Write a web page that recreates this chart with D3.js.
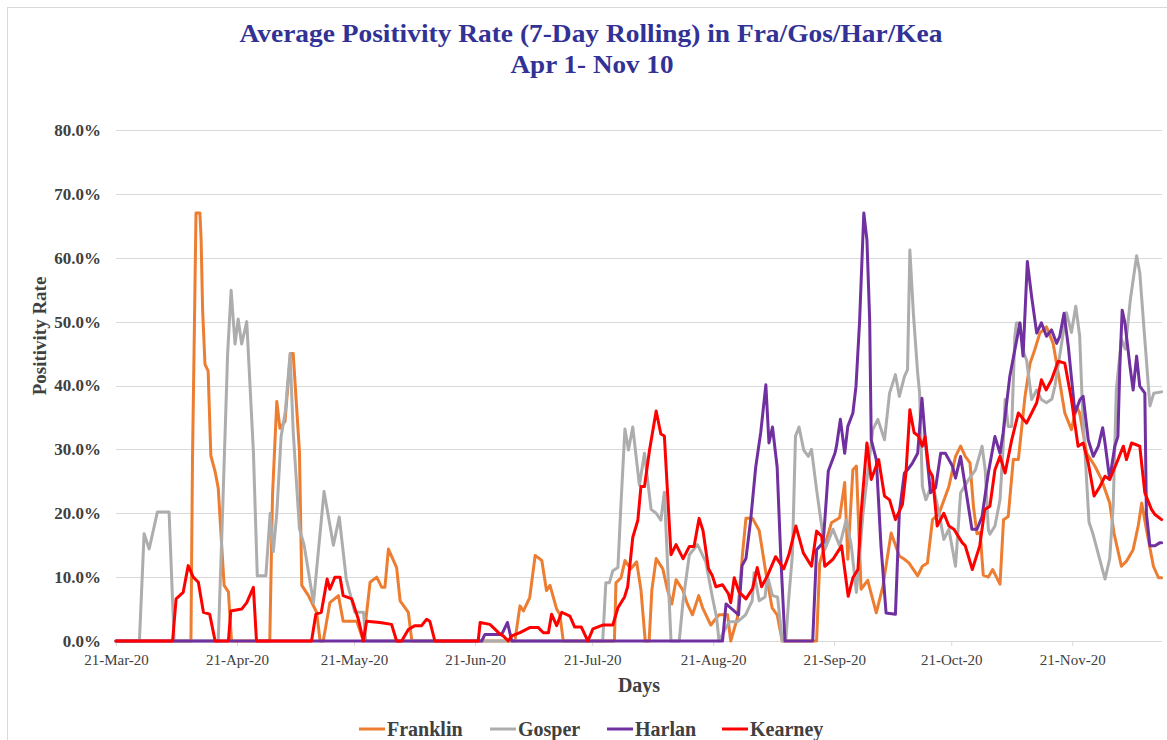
<!DOCTYPE html>
<html>
<head>
<meta charset="utf-8">
<script src="https://cdn.jsdelivr.net/npm/d3@7"></script>
<style>
  html, body { margin: 0; padding: 0; background: #fff; }
  svg { display: block; }
  text { font-family: "Liberation Serif", "DejaVu Serif", serif; }
</style>
</head>
<body>
<svg id="chart" width="1167" height="740"></svg>
<script>
// ---- DATA (day offset from 21-Mar-2020, positivity %) ----
const seriesNames = ["Franklin", "Gosper", "Harlan", "Kearney"];
const seriesColors = ["#ED7D31", "#ADADAD", "#7030A0", "#FF0000"];
const yTicks = [0, 10, 20, 30, 40, 50, 60, 70, 80];
const xTickLabels = ["21-Mar-20", "21-Apr-20", "21-May-20", "21-Jun-20", "21-Jul-20", "21-Aug-20", "21-Sep-20", "21-Oct-20", "21-Nov-20"];
const xTickDays = [0, 31, 61, 92, 122, 153, 184, 214, 245];

const franklin = [[0,0],[19.2,0],[19.6,28.6],[20.0,45.4],[20.5,67],[21.5,67],[21.8,63],[22.2,51.7],[22.8,43.3],[23.6,42.3],[24.3,29],[25.4,26.5],[26.2,23.9],[27.7,8.7],[28.8,7.7],[29.6,0],
  [39.4,0],[40.1,22.8],[41.2,37.5],[42.0,33.3],[43.3,34.4],[44.7,45],[45.4,45],[47.0,29.7],[47.6,8.7],[49.3,7.1],[51.4,4.5],[52.3,0],[53.1,0],[54.8,6],[57.0,7.1],[58.2,3.1],[61.7,3.1],[63.4,0],[65.1,9.2],[66.8,10],[68.1,8.4],[68.9,8.4],[69.8,14.4],[71.9,11.5],[72.8,6.3],[74.9,4.5],[75.8,0],
  [102.2,0],[103.5,5.5],[104.4,4.7],[106,6.8],[107.4,13.4],[109.1,12.6],[110.3,7.9],[111.2,8.7],[112.9,5],[113.7,4.2],[114.6,0],
  [127.7,0],[128.1,9.1],[129.4,9.9],[130.4,12.6],[131.9,11.3],[133.4,12.4],[134.5,8],[135.6,0],[136.6,0],[137.3,8],[138.4,12.9],[140.1,11.3],[141.3,8],[142.4,5.8],[143.5,9.6],[145.2,8],[146.4,5.8],[147.7,4.1],[149.3,7.1],[150.3,5.2],[152.4,2.5],[154.5,4.1],[156.7,4.1],[157.5,0],[159.2,3.6],[160.5,13.5],[161.4,19.2],[163.1,19.2],[164.8,17.3],[166.5,10.7],[168.1,5.2],[169.4,4.1],[170.7,0],
  [179.5,0],[180.3,12.2],[183.3,18.5],[185.4,19.3],[186.7,24.8],[187.5,12.8],[188.8,26.8],[189.7,27.4],[190.9,8.1],[192.6,9.5],[194.8,4.4],[196.5,8.6],[198.6,16.9],[200.7,13.3],[202,12.8],[203.2,12.2],[205.4,10.2],[206.6,11.7],[207.9,12.2],[209.2,19],[210.9,20],[213.4,24.2],[215.1,28.9],[216.4,30.5],[217.6,28.9],[218.8,27.9],[219.7,21],[220.6,16.8],[221.4,17],[222.2,10.3],[223.5,10],[224.6,11.2],[226.5,8.9],[227.4,19],[228.6,19.5],[229.9,28.4],[231.2,28.4],[232.9,38.3],[234.2,43.5],[235.4,45.6],[236.7,48.2],[238.4,49.2],[240.1,46.6],[241.7,40.9],[243.1,35.7],[244.8,33.1],[246.1,36.7],[246.9,35.7],[248.7,29.4],[250.8,27.4],[252.5,25.3],[254.6,21.6],[255.7,16.9],[257.6,11.7],[258.9,12.5],[260.6,14.3],[261.9,18],[262.8,21.6],[264.0,17.5],[265.8,11.7],[267.1,9.9],[267.9,9.9]];

const gosper = [[0,0],[6,0],[7.2,16.8],[8.5,14.4],[10.6,20.2],[13.6,20.2],[14.9,0],
  [26.2,0],[27.3,20],[28.6,45],[29.5,54.9],[30.5,46.5],[31.3,50.4],[32.2,46.5],[33.5,50],[35.2,29.7],[36.2,10.2],[38.4,10.2],[39.5,20],[40.3,14],[41.2,20],[42.3,32],[43.4,36],[44.6,45],[45.4,32.8],[47,17.6],[48.2,15],[50.6,6],[53.3,23.4],[55.7,15],[57.2,19.4],[59,9.7],[61.2,4.5],[63.4,4.5],[64,0],
  [124.7,0],[125.5,9.1],[126.4,9.1],[127.3,11],[128.6,11.5],[129.4,21.7],[130.4,33.2],[131.3,29.9],[132.4,33.5],[134.1,24.4],[135.4,29.4],[137.1,20.6],[138.4,20],[139.6,18.9],[140.5,23.3],[142.2,0],[144.3,0],[145.3,6.3],[146.9,13.5],[149,15.1],[151.1,12.4],[152.8,6.9],[153.9,3.6],[154.5,0],[157.1,3],[159.2,3],[161.3,4.1],[163,6.3],[163.5,10.7],[164.8,6.3],[166.3,6.9],[166.9,10.2],[168.2,7.1],[169.5,6.9],[170.7,0],[171.6,0],[172.4,6.9],[173.3,13.5],[174.1,32.1],[175.0,33.5],[176.2,29.9],[177.4,28.9],[178.2,30],[179.5,23.7],[180.8,18],[181.6,14.3],[183.7,17.5],[185.4,14.9],[187.1,19],[188.4,14.9],[189.7,7.6],[191.4,20],[193.9,33.1],[195.2,34.7],[196.9,31.5],[198.2,38.8],[199.7,41.7],[200.7,38.3],[202,41.4],[202.8,42.5],[203.4,61.2],[204.3,51.3],[205.4,41.9],[205.9,38.8],[206.6,24.2],[207.5,22.1],[209.2,24.7],[210.9,20],[212.1,15.9],[213.4,17.5],[215.1,11.7],[216.4,23.2],[218.5,25.3],[220.2,26.8],[221.9,30.5],[222.7,26.8],[223.5,17.5],[223.9,16.7],[225.2,18],[226.5,22.1],[227.3,30.5],[227.8,37.8],[228.6,33.6],[229.5,33.6],[230.3,47.7],[230.7,49.8],[231.6,49.8],[232.6,45.1],[233.3,44],[234.6,37.8],[235.9,39.3],[237.1,37.8],[238.4,37.3],[239.8,37.9],[240.6,40],[243.5,51.4],[244.8,48.3],[245.9,52.4],[246.9,47.8],[247.6,36.8],[249.3,18.6],[250.2,17],[253.4,9.7],[254.6,12.9],[255.5,21.2],[256.3,39.4],[257.6,47.2],[258.6,45.7],[259.9,53.5],[261.5,60.3],[262.3,57.7],[263.6,47.2],[264.9,36.8],[265.9,38.8],[267.9,39]];

const harlan = [[0,0],[93.7,0],[94.5,1],[98.8,1],[100.3,2.9],[101.4,0],
  [155.4,0],[156.3,5.8],[158,4.9],[159.5,4.1],[160.4,11.8],[161.4,12.9],[162.6,18.9],[163.9,27.2],[165.2,32.7],[166.5,40.1],[167.3,31],[168.2,33.5],[169.4,27.2],[170.3,13.5],[171.4,0],
  [178.5,0],[179.5,14.3],[181.2,15.4],[182.5,26.6],[184.2,29.4],[184.6,30.5],[185.6,34.7],[186.7,29.4],[187.5,33.6],[188.8,35.7],[189.6,39.9],[190.5,49.8],[191.6,67],[192.4,62.8],[193.1,50.3],[193.5,31.5],[194.8,28.4],[196,14.9],[197.3,4.4],[199.7,4.2],[200.7,20.1],[202,26.3],[202.8,26.8],[204.1,27.9],[205.4,29.4],[206.5,38],[207.5,30.5],[208.7,23.2],[210,24],[211.3,29.4],[212.5,29.4],[214.3,27.4],[215.1,25.5],[216.4,28.9],[217.6,24.2],[219.3,17.5],[220.6,17.5],[221.9,19.5],[223.5,26.3],[225.2,32],[226.5,29.4],[227.3,32.6],[229,41.4],[231.6,49.8],[232.4,44.6],[233.5,59.4],[234.6,53.9],[235.9,48.2],[237.1,49.8],[238.4,47.7],[239.7,48.7],[241,46.6],[241.8,47.7],[242.9,51.3],[244,46.1],[245.7,35.7],[247,37.8],[247.8,38.3],[249.1,31.5],[250.4,28.9],[251.7,30.5],[252.8,33.4],[253.4,31],[254.6,25.3],[255.9,30.5],[256.7,32],[257.2,43],[257.8,51.8],[258.5,49.8],[259.8,43],[260.6,39.3],[261.5,44.6],[262.3,39.9],[263.6,38.8],[264,20],[264.9,14.9],[266.2,14.9],[267.5,15.4],[267.9,15.4]];

const kearney = [[0,0],[14.5,0],[15.4,6.6],[17.2,7.6],[18.5,11.8],[19.8,10],[21.1,9.2],[22.4,4.5],[24,4.2],[25.4,0],[28.8,0],[29.4,4.7],[32.2,5],[33.5,6],[35.2,8.4],[36,0],
  [50.1,0],[51.2,4.2],[52.6,4.5],[54.1,9.7],[54.8,8.1],[56.1,10],[57.4,10],[58.2,7.1],[60.4,6.6],[62.1,3.4],[63.4,0],[64.2,3.1],[67.6,2.9],[70.6,2.6],[71.9,0],[73.2,0],[74.9,1.8],[76.6,2.4],[78.3,2.4],[79.6,3.4],[80.4,3.1],[81.7,0],
  [92.8,0],[93.3,2.9],[95.8,2.6],[98,1.3],[99.2,0.8],[100.5,0],[101.4,0.8],[103.5,1.3],[106,2.1],[108.2,2.1],[109.5,1.3],[110.8,1.3],[111.6,4.2],[112.9,2.4],[114.2,4.5],[116.3,3.9],[117.5,2.2],[119.2,2.2],[120.9,0],[122.2,1.9],[124.7,2.5],[127.3,2.5],[128.6,5.2],[130.3,6.9],[131.1,8.5],[132.4,16.2],[133.7,18.9],[134.5,24.2],[135.4,24.2],[136.7,29.9],[138.4,36],[139.6,32.4],[140.5,32.1],[142.2,13.5],[143.5,15.1],[145.3,12.9],[146.9,14.8],[148.1,14.8],[149.4,19.2],[150.4,17.3],[151.8,11.3],[152.8,10.2],[153.7,8.5],[155.4,8.8],[156.9,7.4],[157.5,6],[158.4,9.9],[159.6,7.7],[161.4,6.6],[163.1,8.2],[164.3,11.5],[165.4,8.5],[166.9,10.2],[169,13.2],[171.1,11.3],[172.4,13.5],[174.2,18],[176.1,13.8],[178.2,11.7],[179.5,17.2],[180.8,16.4],[181.6,11.7],[183.7,12.8],[185.9,14.9],[187.6,7],[188.8,9.9],[190.1,11.2],[190.9,20],[192.4,31],[193.5,25.3],[195.4,28.4],[196.9,22.7],[198.2,22.1],[199.7,19],[201.5,21.4],[202.4,26.3],[203.4,36.2],[204.5,32.6],[205.6,32.1],[206.6,30.5],[207.3,32],[208.3,26.8],[209.2,25.8],[210.4,18],[212.1,20],[213.4,18],[214.7,17.5],[216.8,15.4],[217.6,14.9],[219.4,11.2],[221.3,14.9],[222.6,20.6],[223.9,21.1],[225.2,26.8],[226.5,28.9],[227.8,26.3],[229.5,31.5],[231.2,35.7],[233.3,34.1],[234.6,35.7],[235.9,37.3],[237.1,40.9],[238.3,39.3],[239.7,40.9],[241.4,43.8],[243.1,43.5],[244.8,37.8],[246.5,30.5],[247.8,31],[249.1,27.9],[250.6,22.7],[252.1,24.2],[253.4,25.8],[254.6,25.3],[256.4,27.9],[258.1,30.5],[258.9,28.4],[260.2,31],[262.3,30.5],[263.6,23.2],[265.3,20.6],[266.2,19.8],[267.9,19]];

const allSeries = [franklin, gosper, harlan, kearney];

// ---- CHART ----
const svg = d3.select("#chart");
const margin = { left: 116, right: 1162, top: 130, bottom: 641 };
const DAY = 86400000;
const t0 = Date.UTC(2020, 2, 21);
const toDate = d => new Date(t0 + d * DAY);

const x = d3.scaleUtc().domain([toDate(0), toDate(268)]).range([margin.left, margin.right]);
const y = d3.scaleLinear().domain([0, 80]).range([margin.bottom, margin.top]);

// outer chart border (partially visible)
svg.append("rect").attr("x", 7.5).attr("y", 7.5).attr("width", 1180).attr("height", 760)
  .attr("fill", "none").attr("stroke", "#d9d9d9").attr("stroke-width", 1);

// gridlines
svg.append("g").selectAll("line").data(yTicks.filter(v => v > 0)).join("line")
  .attr("x1", margin.left).attr("x2", margin.right)
  .attr("y1", d => Math.round(y(d)) + 0.5).attr("y2", d => Math.round(y(d)) + 0.5)
  .attr("stroke", "#d9d9d9").attr("stroke-width", 1);

// y axis labels
const yAxis = d3.axisLeft(y).tickValues(yTicks).tickSize(0).tickPadding(0)
  .tickFormat(d => d3.format(".1f")(d) + "%");
const gy = svg.append("g").attr("transform", `translate(${margin.left - 15},0)`).call(yAxis);
gy.select(".domain").remove();
gy.selectAll("text").attr("font-size", 17).attr("font-weight", "bold")
  .attr("fill", "#404040").attr("font-family", "Liberation Serif");

// x axis
const xAxis = d3.axisBottom(x).tickValues(xTickDays.map(toDate)).tickSize(5).tickPadding(8)
  .tickFormat((d, i) => xTickLabels[i]);
const gx = svg.append("g").attr("transform", `translate(0,${margin.bottom})`).call(xAxis);
gx.select(".domain").attr("stroke", "#d9d9d9").attr("d", `M${margin.left},0.5H${margin.right}`);
gx.selectAll(".tick line").attr("stroke", "#d9d9d9");
gx.selectAll("text").attr("font-size", 15).attr("fill", "#404040").attr("font-family", "Liberation Serif");

// lines
const line = d3.line().x(d => x(toDate(d[0]))).y(d => y(d[1])).curve(d3.curveLinear);
svg.append("g").selectAll("path").data(allSeries).join("path")
  .attr("d", line)
  .attr("fill", "none")
  .attr("stroke", (d, i) => seriesColors[i])
  .attr("stroke-width", 3)
  .attr("stroke-linejoin", "round")
  .attr("stroke-linecap", "round");

// titles
const titleColor = "#323296";
svg.append("text").attr("x", 591).attr("y", 42).attr("text-anchor", "middle")
  .attr("font-size", 26).attr("font-weight", "bold").attr("fill", titleColor)
  .attr("textLength", 703).attr("lengthAdjust", "spacingAndGlyphs")
  .text("Average Positivity Rate (7-Day Rolling) in Fra/Gos/Har/Kea");
svg.append("text").attr("x", 592).attr("y", 73).attr("text-anchor", "middle")
  .attr("font-size", 26).attr("font-weight", "bold").attr("fill", titleColor)
  .attr("textLength", 163).attr("lengthAdjust", "spacingAndGlyphs")
  .text("Apr 1- Nov 10");

// axis titles
svg.append("text").attr("x", 639).attr("y", 692).attr("text-anchor", "middle")
  .attr("font-size", 20).attr("font-weight", "bold").attr("fill", "#404040").text("Days");
svg.append("text").attr("transform", "translate(46,336) rotate(-90)").attr("text-anchor", "middle")
  .attr("font-size", 19).attr("font-weight", "bold").attr("fill", "#404040").text("Positivity Rate");

// legend
const legendX = [359, 490, 607, 722];
const lg = svg.append("g").selectAll("g").data(seriesNames).join("g")
  .attr("transform", (d, i) => `translate(${legendX[i]},729)`);
lg.append("line").attr("x1", 0).attr("x2", 26).attr("y1", 0).attr("y2", 0)
  .attr("stroke", (d, i) => seriesColors[i]).attr("stroke-width", 3);
lg.append("text").attr("x", 28).attr("y", 7).attr("font-size", 20).attr("font-weight", "bold")
  .attr("fill", "#404040").text(d => d);
</script>
</body>
</html>
